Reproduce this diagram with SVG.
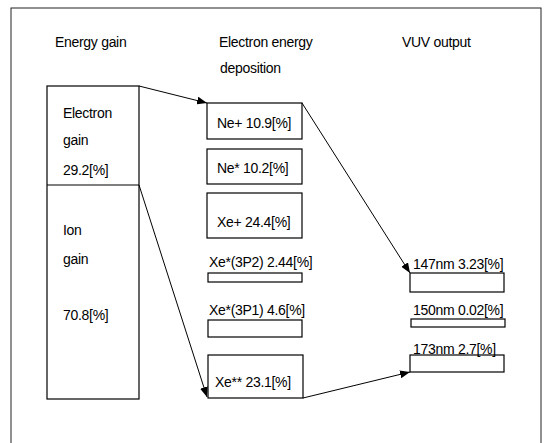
<svg xmlns="http://www.w3.org/2000/svg" width="545" height="443" viewBox="0 0 545 443">
<style>
text{font-family:"Liberation Sans",Arial,sans-serif;font-size:14px;fill:#000;letter-spacing:-0.3px}
.box{fill:#fff;stroke:#000;stroke-width:1.2}
.frame{fill:none;stroke:#222;stroke-width:1}
.conn{fill:none;stroke:#000;stroke-width:1;marker-end:url(#ah)}
</style>
<defs>
<marker id="ah" viewBox="0 0 10 8" refX="10" refY="4" markerWidth="10" markerHeight="8" markerUnits="userSpaceOnUse" orient="auto">
<path d="M0,0 L10,4 L0,8 Z" fill="#000"/>
</marker>
</defs>
<rect width="545" height="443" fill="#fff"/>
<rect class="frame" x="11" y="8" width="530" height="440"/>
<g id="headers">
<text x="55" y="47">Energy gain</text>
<text x="219" y="47">Electron energy</text>
<text x="220" y="73">deposition</text>
<text x="402" y="47">VUV output</text>
</g>
<g id="energy-gain">
<rect class="box" x="47" y="86" width="92" height="313"/>
<line x1="47" y1="185" x2="139" y2="185" stroke="#000" stroke-width="1.2"/>
<text x="63" y="118">Electron</text>
<text x="63" y="145">gain</text>
<text x="63" y="175">29.2[%]</text>
<text x="63" y="235">Ion</text>
<text x="63" y="264">gain</text>
<text x="63" y="320">70.8[%]</text>
</g>
<g id="ne-plus">
<rect class="box" x="207" y="103" width="95" height="36"/>
<text x="217" y="128">Ne+ 10.9[%]</text>
</g>
<g id="ne-star">
<rect class="box" x="207" y="149" width="95" height="35"/>
<text x="217" y="173">Ne* 10.2[%]</text>
</g>
<g id="xe-plus">
<rect class="box" x="207" y="193" width="95" height="45"/>
<text x="217" y="227">Xe+ 24.4[%]</text>
</g>
<g id="xe-3p2">
<rect class="box" x="208" y="273" width="94" height="9"/>
<text x="209" y="267">Xe*(3P2) 2.44[%]</text>
</g>
<g id="xe-3p1">
<rect class="box" x="208" y="320" width="94" height="17"/>
<text x="209" y="315">Xe*(3P1) 4.6[%]</text>
</g>
<g id="xe-2star">
<rect class="box" x="208" y="355" width="95" height="43"/>
<text x="215" y="387">Xe** 23.1[%]</text>
</g>
<g id="nm147">
<rect class="box" x="410" y="273" width="94" height="19"/>
<text x="413" y="269">147nm 3.23[%]</text>
</g>
<g id="nm150">
<rect class="box" x="411" y="319" width="94" height="8"/>
<text x="413" y="315">150nm 0.02[%]</text>
</g>
<g id="nm173">
<rect class="box" x="410" y="355" width="94" height="17"/>
<text x="413" y="354">173nm 2.7[%]</text>
</g>
<g id="connectors">
<line class="conn" x1="139" y1="86" x2="207" y2="103"/>
<line class="conn" x1="139" y1="185" x2="207" y2="397"/>
<line class="conn" x1="302" y1="103" x2="410" y2="273"/>
<line class="conn" x1="303" y1="398" x2="410" y2="372"/>
</g>
</svg>
